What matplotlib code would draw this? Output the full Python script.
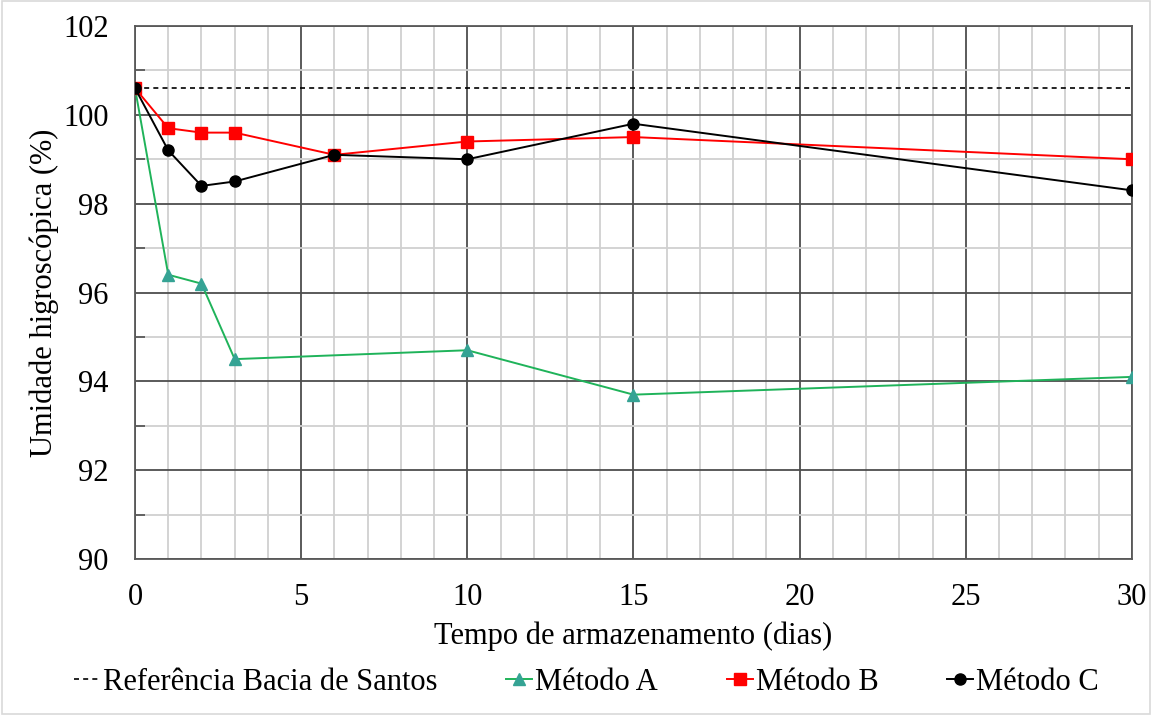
import matplotlib
matplotlib.use("Agg")
import matplotlib.pyplot as plt
from matplotlib.patches import Rectangle
from matplotlib.ticker import MultipleLocator

# data
ref_x = [0, 30]
ref_y = [100.6, 100.6]

dias_a = [0, 1, 2, 3, 10, 15, 30]
metodo_a = [100.6, 96.4, 96.2, 94.5, 94.7, 93.7, 94.1]

dias_bc = [0, 1, 2, 3, 6, 10, 15, 30]
metodo_b = [100.6, 99.7, 99.6, 99.6, 99.1, 99.4, 99.5, 99.0]
metodo_c = [100.6, 99.2, 98.4, 98.5, 99.1, 99.0, 99.8, 98.3]

plt.rcParams['font.family'] = ['Liberation Serif', 'DejaVu Serif']
fs = 22

fig = plt.figure(figsize=(11.52, 7.15), dpi=100)
fig.patches.append(Rectangle((0.002, 0.002), 0.996, 0.996, transform=fig.transFigure,
                             fill=False, edgecolor='#d9d9d9', linewidth=1.2))
ax = fig.add_axes([0.1172, 0.2182, 0.8654, 0.7454])

ax.plot(ref_x, ref_y, color='black', linestyle=(0, (3, 2.5)), linewidth=1.2,
        label='Referência Bacia de Santos', zorder=3)
ax.plot(dias_a, metodo_a, color='#1fb35a', linewidth=1.4, marker='^', markersize=8,
        markerfacecolor='#35a394', markeredgecolor='#35a394', label='Método A', zorder=4)
ax.plot(dias_bc, metodo_b, color='#ff0000', linewidth=1.4, marker='s', markersize=8,
        markerfacecolor='#ff0000', markeredgecolor='#ff0000', label='Método B', zorder=5)
ax.plot(dias_bc, metodo_c, color='black', linewidth=1.4, marker='o', markersize=8,
        markerfacecolor='black', markeredgecolor='black', label='Método C', zorder=6)

ax.set_xlim(0, 30)
ax.set_ylim(90, 102)
ax.xaxis.set_major_locator(MultipleLocator(5))
ax.xaxis.set_minor_locator(MultipleLocator(1))
ax.yaxis.set_major_locator(MultipleLocator(2))
ax.yaxis.set_minor_locator(MultipleLocator(1))

ax.grid(which='major', color='#4d4d4d', linewidth=1.3, zorder=1)
ax.grid(which='minor', color='#d0d0d0', linewidth=1.3, zorder=0)
ax.set_axisbelow(True)

for s in ax.spines.values():
    s.set_color('#595959')
    s.set_linewidth(1.3)

ax.tick_params(axis='y', which='major', labelsize=fs, length=0, pad=19)
ax.tick_params(axis='x', which='major', labelsize=fs, length=0, pad=17)
ax.tick_params(axis='y', which='minor', direction='in', length=7, color='#595959', width=1.3)
ax.tick_params(axis='x', which='minor', length=0)

ax.set_xlabel('Tempo de armazenamento (dias)', fontsize=fs, labelpad=7)
ax.set_ylabel('Umidade higroscópica (%)', fontsize=fs, labelpad=3)

ax.legend(loc='center', bbox_to_anchor=(0.509, 0.046), bbox_transform=fig.transFigure,
          ncol=4, frameon=False, fontsize=fs, handlelength=0.85, handletextpad=0.1,
          columnspacing=2.25, borderaxespad=0)

fig.savefig('out.png', dpi=100)
